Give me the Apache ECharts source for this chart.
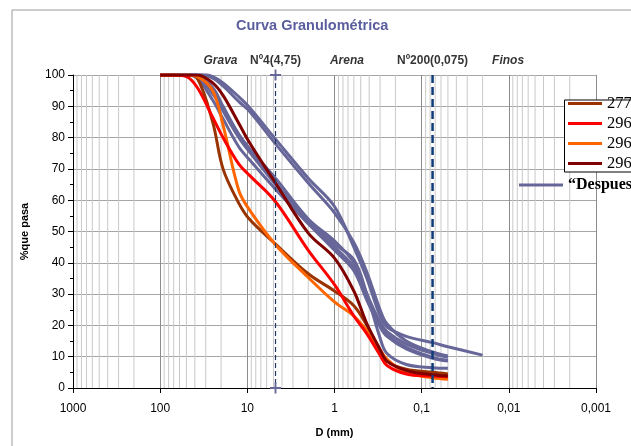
<!DOCTYPE html>
<html><head><meta charset="utf-8">
<script src="https://cdn.jsdelivr.net/npm/echarts@6/dist/echarts.min.js"></script>
<style>html,body{margin:0;padding:0;background:#fff}#c{width:631px;height:446px}</style>
</head><body><div id="c"></div>
<script>
// Particle sizes (mm) at which the curves were read
const sizes = [100,75,50,37.5,25,19,12.5,9.5,4.75,2,1,0.6,0.425,0.3,0.25,0.15,0.075,0.05];
const sizesLong = [100,75,50,37.5,25,19,12.5,9.5,4.75,2,1,0.6,0.425,0.3,0.25,0.15,0.075,0.05,0.02];

// % passing, coloured samples
const s2774 = [100,100,100,99,85,70,59,54,46,36.5,31,26.3,20,12,8.5,6,5,4.5];
const s2965 = [100,100,99.5,96,86.5,80,71.5,68,59.5,44,33,23,17.3,10.5,7.2,4.5,3.8,3.6];
const s2966 = [100,100,100,99.5,95,84,63,57,45.8,35.3,27.5,23,18.3,12.2,9.2,4.8,3.3,2.8];
const s2967 = [100,100,100,100,97.5,93.5,84.5,78.5,65.5,49.5,41.5,31,20.5,12.3,8.6,5.6,4.2,3.8];

// % passing, "Despues" curves
const despues1 = [100,100.5,101,100.8,99.5,97.5,93,89.7,79.5,67,58,45,35,23,19.5,16.5,14.5,13.2,10.5];
const despues2 = [100,100.5,101,100.5,99,96.5,91.5,88.5,78,65.5,56,46.5,37,25,20.5,15,11.5,10.2];
const despues3 = [100,100,100.5,100,96,90,81,76.5,67,54,47,40,30,21,18,14,11,9.8];
const despues4 = [100,100,100.5,99.5,94.5,88.5,80,75.5,65,53,45,38.5,29,20,17,13,9.8,8.9];
const despues5 = [100,100,100,99,92,86,77,73,63.5,52.5,44,37.5,28,19.5,16.5,12.5,9.5,8.6];
const despues6 = [100,100,100,99.5,94,89,81,76.5,65.5,53.5,46,41,30,16,11,7.5,6.5,6.3];

// reference sieves and zone labels
const no4 = 4.75, no200 = 0.075;
const zoneD = [20.3, 4.75, 0.72, 0.075, 0.0102];
const zoneText = ['Grava','Nº4(4,75)','Arena','Nº200(0,075)','Finos'];
const zoneItalic = [true,false,true,false,true];
const minorMultipliers = [2,3,4,5,6,7,8,9];
const decades = [0.001,0.01,0.1,1,10,100];

const pair = (xs, ys) => ys.map((v,i)=>[xs[i], v]);
const purple = '#666699';

const minorGridData = [];
decades.forEach(d => minorMultipliers.forEach(m => {
  const v = +(d*m).toPrecision(3);
  minorGridData.push([v,0],[v,100],'-');
}));

const curve = (name, xs, ys, color, z) => ({
  name, type:'line', data: pair(xs, ys), symbol:'none', smooth:0.35,
  lineStyle:{color, width:3}, itemStyle:{color}, z, silent:true, animation:false
});

const plusPath = 'path://M5,0h2v5h5v2h-5v5h-2v-5h-5v-2h5z';

const chart = echarts.init(document.getElementById('c'), null, {renderer:'canvas'});
const FF = 'Liberation Sans';
chart.setOption({
  animation:false,
  backgroundColor:'#fff',
  textStyle:{fontFamily:FF},
  title:{text:'Curva Granulométrica', left:231, top:13,
    textStyle:{fontFamily:FF, fontSize:14.5, fontWeight:'bold', color:'#5b5e9e'}},
  grid:{left:73, right:35, top:75, bottom:58, containLabel:false},
  xAxis:{type:'log', logBase:10, min:0.001, max:1000, inverse:true, splitNumber:6,
    name:'D (mm)', nameLocation:'middle', nameGap:39,
    nameTextStyle:{fontFamily:FF, fontSize:11, fontWeight:'bold', color:'#000'},
    axisLine:{show:true, onZero:false, lineStyle:{color:'#000', width:1}},
    axisTick:{show:true, inside:false, length:5, lineStyle:{color:'#000'}},
    axisLabel:{margin:15, fontSize:12, color:'#000', fontFamily:FF,
      formatter: v => String(+(+v).toPrecision(3)).replace('.', ',')},
    splitLine:{show:true, lineStyle:{color:'#8c8c8c', width:1}},
    minorTick:{show:false}, minorSplitLine:{show:false}},
  yAxis:{type:'value', min:0, max:100, interval:10,
    name:'%que pasa', nameLocation:'middle', nameGap:43, nameRotate:90,
    nameTextStyle:{fontFamily:FF, fontSize:11, fontWeight:'bold', color:'#000'},
    axisLine:{show:true, lineStyle:{color:'#000', width:1}},
    axisTick:{show:true, length:5, lineStyle:{color:'#000'}},
    minorTick:{show:true, splitNumber:2, length:3, lineStyle:{color:'#000'}},
    axisLabel:{margin:8, fontSize:12, color:'#000', fontFamily:FF},
    splitLine:{show:true, lineStyle:{color:'#a6a6a6', width:1}}},
  legend:[
    {data:['2774','2965','2966','2967'], orient:'vertical', left:568, top:95,
     icon:'rect', itemWidth:34, itemHeight:3, itemGap:3, selectedMode:false, padding:0, z:10,
     textStyle:{fontFamily:'Liberation Serif', fontSize:16.5, lineHeight:16, color:'#000'}},
    {data:['“Despues'], orient:'vertical', left:519, top:177, icon:'rect', itemWidth:44, itemHeight:3,
     selectedMode:false, padding:0, z:10,
     textStyle:{fontFamily:'Liberation Serif', fontSize:16, lineHeight:16, fontWeight:'bold', color:'#000'}}
  ],
  graphic:[
    {type:'rect', left:9.5, top:7.5, shape:{x:0,y:0,width:640,height:460}, z:-10, silent:true,
     style:{fill:null, stroke:'#9a9a9a', lineWidth:1}},
    {type:'rect', left:564, top:99.5, shape:{x:0,y:0,width:90,height:72}, z:9, silent:true,
     style:{fill:'#fff', stroke:'#000', lineWidth:1}}
  ],
  series:[
    {name:'minorGrid', type:'line', data:minorGridData, symbol:'none', connectNulls:false, silent:true,
     lineStyle:{color:'#c9c9c9', width:1}, z:0},
    curve('“Despues', sizesLong, despues1, purple, 2),
    curve('“Despues', sizes, despues2, purple, 2),
    curve('“Despues', sizes, despues3, purple, 2),
    curve('“Despues', sizes, despues4, purple, 2),
    curve('“Despues', sizes, despues5, purple, 2),
    curve('“Despues', sizes, despues6, purple, 2),
    curve('2774', sizes, s2774, '#993300', 3),
    curve('2966', sizes, s2966, '#ff6600', 3),
    curve('2965', sizes, s2965, '#ff0000', 3),
    curve('2967', sizes, s2967, '#800000', 3),
    {name:'no4', type:'line', data:[[no4,100],[no4,0]], symbol:plusPath, symbolSize:11, showSymbol:true,
     itemStyle:{color:purple}, lineStyle:{color:'#1f3864', width:1.2, type:[5,3]}, z:4, silent:true},
    {name:'no200', type:'line', data:[[no200,100],[no200,0]], symbol:'none',
     lineStyle:{color:'#0f3c78', width:2.5, type:[8,4]}, z:4, silent:true},
    {name:'zones', type:'scatter', symbolSize:0, silent:true, z:5,
     data: zoneD.map((d,i)=>({value:[d,100], label:{formatter:zoneText[i], fontStyle: zoneItalic[i]?'italic':'normal'}})),
     label:{show:true, position:'top', distance:8, fontFamily:FF, fontSize:12, fontWeight:'bold', color:'#000'}}
  ]
});
</script></body></html>
